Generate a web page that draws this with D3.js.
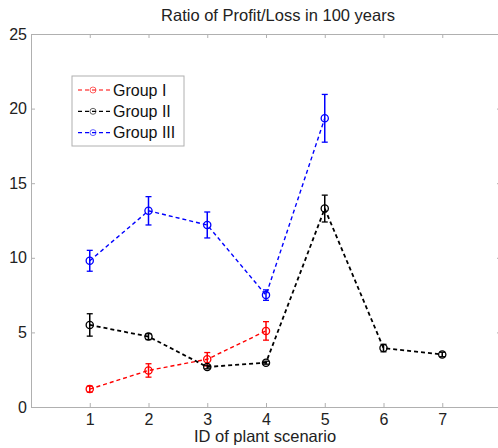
<!DOCTYPE html>
<html>
<head>
<meta charset="utf-8">
<script src="https://cdn.jsdelivr.net/npm/d3@7"></script>
<style>
  body { margin: 0; background: #fff; }
  svg { font-family: "Liberation Sans", Arial, sans-serif; }
</style>
</head>
<body>
<svg id="chart" width="498" height="448"></svg>
<script>
// scenario ids
var scenarios = [1, 2, 3, 4, 5, 6, 7];

// Group I
var g1Mean = [1.2, 2.45, 3.2, 5.1];
var g1Err = [0.2, 0.45, 0.45, 0.62];
// Group II
var g2Mean = [5.5, 4.72, 2.68, 2.97, 13.3, 3.95, 3.52];
var g2Err = [0.75, 0.2, 0.12, 0.1, 0.9, 0.25, 0.15];
// Group III
var g3Mean = [9.8, 13.15, 12.2, 7.5, 19.35];
var g3Err = [0.7, 0.95, 0.87, 0.35, 1.6];

var groupNames = ["Group I", "Group II", "Group III"];
var groupColors = ["#ff0000", "#000000", "#0000ff"];
var yTicks = [0, 5, 10, 15, 20, 25];

var svg = d3.select("#chart");

var margin = {top: 34, left: 31, bottom: 41, right: -3};
var width = 498 - margin.left - margin.right,
    height = 448 - margin.top - margin.bottom;

var g = svg.append("g")
  .attr("transform", "translate(" + margin.left + "," + margin.top + ")");

var x = d3.scaleLinear().domain([0, 8]).range([0, width]);
var y = d3.scaleLinear().domain([0, 25]).range([height, 0]);

// box with inward ticks (matlab style)
var axisColor = "#b0b0b0";
function styleAxis(sel) {
  sel.select(".domain").attr("stroke", axisColor);
  sel.selectAll(".tick line").attr("stroke", axisColor);
  sel.selectAll(".tick text").attr("fill", "#222").style("font-size", "16px");
}

g.append("g")
  .attr("transform", "translate(0," + height + ")")
  .call(d3.axisBottom(x).tickValues(scenarios).tickSize(-4).tickPadding(7).tickSizeOuter(0))
  .call(styleAxis);

g.append("g")
  .call(d3.axisTop(x).tickValues(scenarios).tickSize(-4).tickFormat("").tickSizeOuter(0))
  .call(styleAxis);

g.append("g")
  .call(d3.axisLeft(y).tickValues(yTicks).tickSize(-4).tickPadding(4).tickSizeOuter(0))
  .call(styleAxis);

g.append("g")
  .attr("transform", "translate(" + width + ",0)")
  .call(d3.axisRight(y).tickValues(yTicks).tickSize(-4).tickFormat("").tickSizeOuter(0))
  .call(styleAxis);

// title and label
svg.append("text")
  .attr("x", 278).attr("y", 21)
  .attr("text-anchor", "middle")
  .style("font-size", "16.5px")
  .attr("fill", "#222")
  .text("Ratio of Profit/Loss in 100 years");

svg.append("text")
  .attr("x", 265).attr("y", 442)
  .attr("text-anchor", "middle")
  .style("font-size", "16.5px")
  .attr("fill", "#222")
  .text("ID of plant scenario");

// series
var groups = [
  {mean: g1Mean, err: g1Err},
  {mean: g2Mean, err: g2Err},
  {mean: g3Mean, err: g3Err}
];

var line = d3.line()
  .x(function(d) { return x(d.id); })
  .y(function(d) { return y(d.v); });

groups.forEach(function(grp, gi) {
  var pts = grp.mean.map(function(v, i) {
    return {id: scenarios[i], v: v, e: grp.err[i]};
  });
  var col = groupColors[gi];
  var layer = g.append("g");

  layer.append("path")
    .datum(pts)
    .attr("fill", "none")
    .attr("stroke", col)
    .attr("stroke-width", gi == 1 ? 1.8 : 1.4)
    .attr("stroke-dasharray", "4,3")
    .attr("d", line);

  // error bars
  var eb = layer.selectAll(".eb").data(pts).enter().append("g");
  eb.append("line")
    .attr("x1", function(d) { return x(d.id); })
    .attr("x2", function(d) { return x(d.id); })
    .attr("y1", function(d) { return y(d.v - d.e); })
    .attr("y2", function(d) { return y(d.v + d.e); })
    .attr("stroke", col).attr("stroke-width", 1.5);
  [-1, 1].forEach(function(s) {
    eb.append("line")
      .attr("x1", function(d) { return x(d.id) - 3; })
      .attr("x2", function(d) { return x(d.id) + 3; })
      .attr("y1", function(d) { return y(d.v + s * d.e); })
      .attr("y2", function(d) { return y(d.v + s * d.e); })
      .attr("stroke", col).attr("stroke-width", 1.3);
  });

  layer.selectAll(".mk").data(pts).enter().append("circle")
    .attr("cx", function(d) { return x(d.id); })
    .attr("cy", function(d) { return y(d.v); })
    .attr("r", 3.6)
    .attr("fill", "none")
    .attr("stroke", col)
    .attr("stroke-width", 1.3);
});

// legend
var leg = svg.append("g").attr("transform", "translate(72,76)");
leg.append("rect")
  .attr("width", 112).attr("height", 70)
  .attr("fill", "#fff")
  .attr("stroke", "#b0b0b0");

groupNames.forEach(function(name, i) {
  var yy = 14 + i * 21.3;
  leg.append("line")
    .attr("x1", 6).attr("x2", 38)
    .attr("y1", yy).attr("y2", yy)
    .attr("stroke", groupColors[i])
    .attr("stroke-width", 1.2)
    .attr("stroke-dasharray", "4,3");
  leg.append("circle")
    .attr("cx", 21).attr("cy", yy).attr("r", 3)
    .attr("fill", "none")
    .attr("stroke", groupColors[i]).attr("stroke-opacity", 0.6);
  leg.append("text")
    .attr("x", 41).attr("y", yy + 5.5)
    .style("font-size", "16px")
    .attr("fill", "#111")
    .text(name);
});
</script>
</body>
</html>
